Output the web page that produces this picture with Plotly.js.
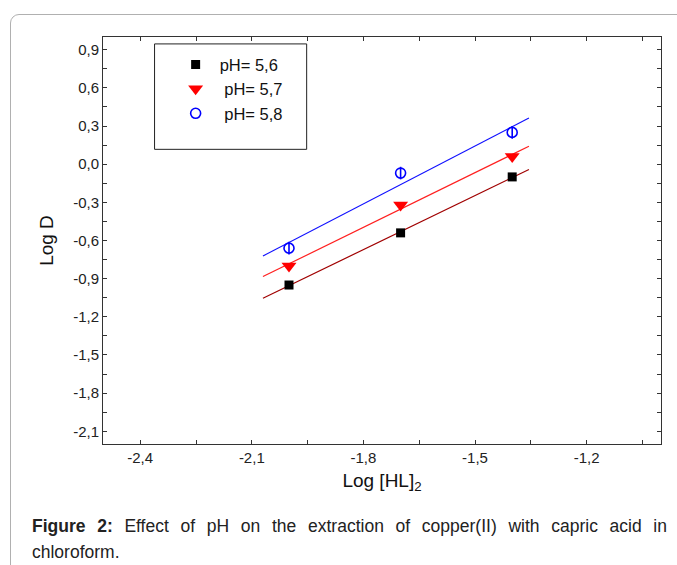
<!DOCTYPE html>
<html>
<head>
<meta charset="utf-8">
<script src="https://cdn.plot.ly/plotly-3.0.1.min.js"></script>
<style>
  html, body { margin:0; padding:0; background:#fff; width:677px; height:565px; overflow:hidden; }
  #frame { position:absolute; left:10px; top:14px; width:700px; height:600px; border:1px solid #b0b0b0; border-radius:9px; box-sizing:border-box; }
  #plot { position:absolute; left:0; top:0; width:677px; height:500px; }
  #caption { position:absolute; left:32px; top:513px; width:635px; font-family:"Liberation Sans", Arial, sans-serif; font-size:17.5px; line-height:26px; color:#222; text-align:justify; }
</style>
</head>
<body>
<div id="frame"></div>
<div id="plot"></div>
<div id="caption"><b>Figure 2:</b> Effect of pH on the extraction of copper(II) with capric acid in chloroform.</div>
<script>
// Data
const logHL = [-2.0, -1.7, -1.4];
const pH56 = [-0.95, -0.54, -0.10];
const pH57 = [-0.80, -0.32, 0.06];
const pH58 = [-0.66, -0.07, 0.25];
const seriesNames = ['pH= 5,6', '\u00a0pH= 5,7', '\u00a0pH= 5,8'];
const fitRange = [-2.07, -1.355];
const xTickVals = [-2.4, -2.1, -1.8, -1.5, -1.2];
const xTickText = ['-2,4', '-2,1', '-1,8', '-1,5', '-1,2'];
const yTickVals = [0.9, 0.6, 0.3, 0.0, -0.3, -0.6, -0.9, -1.2, -1.5, -1.8, -2.1];
const yTickText = ['0,9', '0,6', '0,3', '0,0', '-0,3', '-0,6', '-0,9', '-1,2', '-1,5', '-1,8', '-2,1'];

function fit(xs, ys) {
  const n = xs.length;
  const mx = xs.reduce((a,b)=>a+b,0)/n, my = ys.reduce((a,b)=>a+b,0)/n;
  let sxy=0, sxx=0;
  for (let i=0;i<n;i++){ sxy += (xs[i]-mx)*(ys[i]-my); sxx += (xs[i]-mx)*(xs[i]-mx); }
  const b = sxy/sxx, a = my - b*mx;
  return { x: fitRange.slice(), y: fitRange.map(v => a + b*v) };
}

const f56 = fit(logHL, pH56), f57 = fit(logHL, pH57), f58 = fit(logHL, pH58);

const traces = [
  { x: f56.x, y: f56.y, mode:'lines', line:{color:'#a00000', width:1.2}, showlegend:false, hoverinfo:'skip' },
  { x: f57.x, y: f57.y, mode:'lines', line:{color:'#ff2020', width:1.2}, showlegend:false, hoverinfo:'skip' },
  { x: f58.x, y: f58.y, mode:'lines', line:{color:'#1010ff', width:1.2}, showlegend:false, hoverinfo:'skip' },
  { x: logHL, y: pH56, mode:'markers', name: seriesNames[0], marker:{symbol:'square', size:9, color:'#000'} },
  { x: logHL, y: pH57, mode:'markers', name: seriesNames[1], marker:{symbol:'triangle-down', size:13, color:'#ff0000'} },
  { x: logHL, y: pH58, mode:'markers', name: seriesNames[2], marker:{symbol:'circle', size:10, color:'#fff', line:{color:'#0000ff', width:1.6}} },
  { x: logHL, y: pH58, mode:'markers', showlegend:false, hoverinfo:'skip', marker:{symbol:'line-ns-open', size:9, color:'#0000ff', line:{color:'#0000ff', width:1.6}} }
];

const axisCommon = {
  showgrid:false, zeroline:false, showline:true, linecolor:'#333', linewidth:1,
  mirror:'ticks', ticks:'inside', ticklen:4, tickcolor:'#333',
  tickfont:{family:'Liberation Sans, Arial, sans-serif', size:15, color:'#222'}
};

const layout = {
  width:677, height:500,
  margin:{l:103, r:16, t:37, b:56},
  paper_bgcolor:'rgba(0,0,0,0)', plot_bgcolor:'#fff',
  font:{family:'Liberation Sans, Arial, sans-serif', color:'#222'},
  xaxis: Object.assign({}, axisCommon, {
    range:[-2.5, -1.0], tickmode:'array',
    tickvals: xTickVals, ticktext: xTickText,
    minor:{ticks:'inside', ticklen:4, tickcolor:'#333', dtick:0.15, tick0:-2.55, showgrid:false},
    title:{text:'Log [HL]<sub>2</sub>', font:{size:19, color:'#111'}, standoff:8}
  }),
  yaxis: Object.assign({}, axisCommon, {
    range:[-2.2, 1.0], tickmode:'array',
    tickvals: yTickVals, ticktext: yTickText,
    minor:{ticks:'inside', ticklen:4, tickcolor:'#333', dtick:0.15, tick0:-2.25, showgrid:false},
    title:{text:'Log D', font:{size:19, color:'#111'}, standoff:14}
  }),
  showlegend:true,
  legend:{x:0.123, y:0.975, xref:'paper', yref:'paper', xanchor:'left', yanchor:'top',
          bgcolor:'rgba(0,0,0,0)', borderwidth:0,
          font:{family:'Liberation Sans, Arial, sans-serif', size:16.5, color:'#111'},
          itemwidth:38, tracegroupgap:0},
  shapes:[{type:'rect', xref:'paper', yref:'paper', x0:0.0924, x1:0.365, y0:0.724, y1:0.983,
           line:{color:'#222', width:1}, fillcolor:'rgba(0,0,0,0)', layer:'above'}]
};

Plotly.newPlot('plot', traces, layout, {displayModeBar:false, staticPlot:true});
</script>
</body>
</html>
